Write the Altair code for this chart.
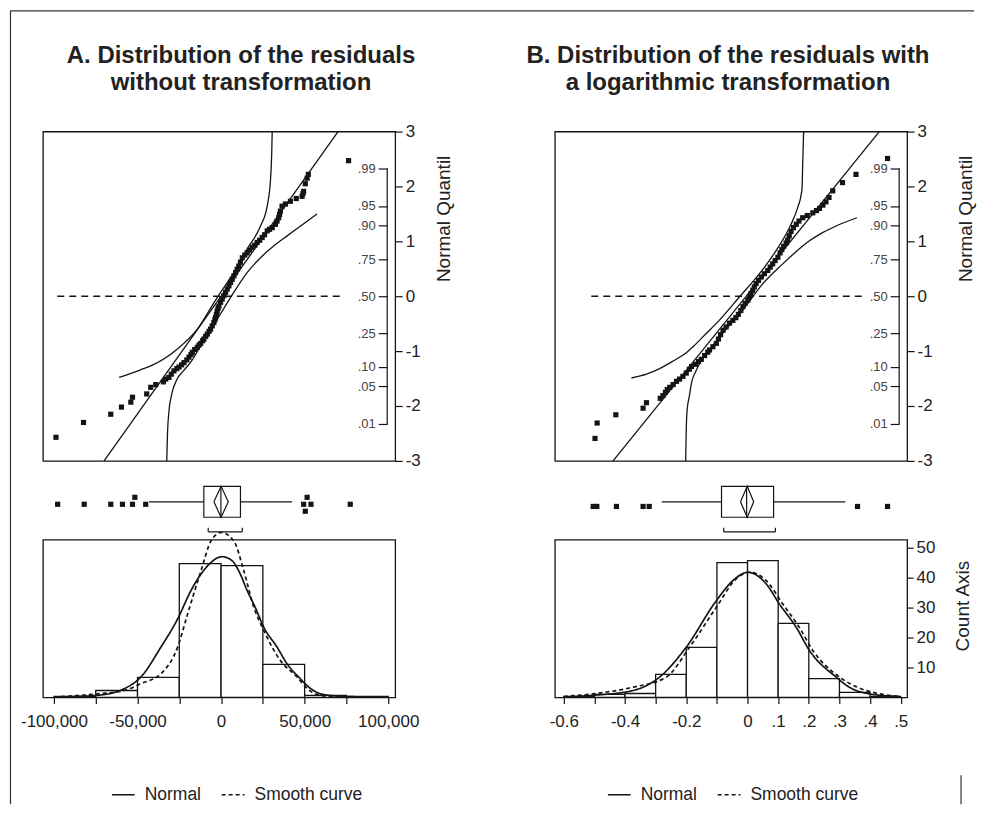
import altair as alt
import pandas as pd

FONT = "Liberation Sans"
INK = "#141414"
TXT = "#222222"

# ===================== Panel A: residuals without transformation (x in thousands) =====================
A_TITLE = ["A. Distribution of the residuals", "without transformation"]
A_QQ_RESID = [-98.8, -82.3, -66.0, -59.6, -54.0, -53.0, -44.5, -42.1, -39.1, -34.5,
              -33.1, -31.2, -29.8, -28.2, -26.5, -25.2, -23.6, -22.2, -20.5, -19.2,
              -18.0, -17.2, -15.8, -14.2, -13.2, -12.2, -11.0, -10.3, -9.2, -8.2,
              -7.2, -6.3, -5.3, -4.3, -3.7, -3.3, -2.8, -2.3, -1.8, -1.3,
              -0.3, 0.7, 1.7, 2.7, 3.7, 4.7, 5.7, 6.7, 7.7, 8.7,
              9.6, 10.6, 11.6, 12.7, 14.2, 15.6, 17.0, 18.6, 20.1, 21.6,
              23.1, 24.6, 26.0, 27.6, 29.0, 30.6, 32.5, 33.5, 34.5, 35.0,
              35.5, 36.5, 38.5, 41.5, 45.0, 48.5, 49.0, 49.4, 50.4, 51.5,
              52.2, 76.3]
A_QQ_Z = [-2.57, -2.30, -2.15, -2.02, -1.93, -1.84, -1.78, -1.66, -1.61, -1.56,
          -1.51, -1.48, -1.42, -1.36, -1.32, -1.29, -1.25, -1.21, -1.16, -1.11,
          -1.06, -1.02, -0.97, -0.93, -0.89, -0.86, -0.81, -0.78, -0.73, -0.69,
          -0.64, -0.60, -0.54, -0.48, -0.43, -0.39, -0.33, -0.27, -0.22, -0.18,
          -0.11, -0.05, 0.01, 0.07, 0.13, 0.19, 0.25, 0.31, 0.37, 0.43,
          0.49, 0.55, 0.62, 0.70, 0.75, 0.79, 0.84, 0.89, 0.93, 0.98,
          1.02, 1.07, 1.12, 1.19, 1.22, 1.25, 1.31, 1.37, 1.43, 1.49,
          1.55, 1.64, 1.68, 1.73, 1.78, 1.82, 1.87, 1.91, 2.05, 2.15,
          2.22, 2.47]
A_UP_R = [-61.0, -48.1, -42.1, -26.1, -14.2, -4.3, -0.3, 7.6, 15.6, 23.6, 27.6, 29.6, 30.3, 30.6]
A_UP_Z = [-1.48, -1.34, -1.27, -0.96, -0.60, -0.12, 0.07, 0.43, 0.86, 1.28, 1.64, 2.13, 2.60, 3.00]
A_LO_R = [-32.5, -32.1, -31.2, -29.5, -26.5, -22.5, -17.0, -12.2, -7.0, -2.3, 2.5, 7.6, 15.6, 25.6, 32.0, 39.5, 48.0, 57.4]
A_LO_Z = [-3.00, -2.54, -2.10, -1.78, -1.52, -1.36, -1.15, -0.90, -0.66, -0.42, -0.18, 0.07, 0.43, 0.76, 0.93, 1.10, 1.29, 1.50]
A_REF_R = [-70.0, 70.0]
A_REF_Z = [-3.0, 3.0]
A_ZERO_R = [-98.0, 71.0]

A_BIN_LO = [-100, -75, -50, -25, 0, 25, 50, 75]
A_BIN_HI = [-75, -50, -25, 0, 25, 50, 75, 100]
A_COUNTS = [0.3, 2.3, 6.7, 44.7, 44.0, 11.0, 0.7, 0.3]
A_NORM_R = [-100, -74, -58, -48, -36, -26, -18, -12, -6, 0.5, 6.5, 11.5, 15.6, 20.5, 25.6, 33.5, 39.5, 47.5, 51.5, 61, 75, 100]
A_NORM_C = [0.1, 0.7, 2.9, 6.8, 16.8, 26.2, 35.7, 41.2, 45.1, 47.0, 45.7, 41.2, 35.7, 30.0, 23.4, 16.8, 11.2, 6.2, 3.9, 1.0, 0.3, 0.1]
A_SMOOTH_R = [-100, -74, -58, -48, -36, -26, -20, -12, -6, 0, 7.6, 13.6, 19.6, 25.6, 35.5, 45.5, 51.5, 61.4, 75, 100]
A_SMOOTH_C = [0.1, 1.2, 2.3, 4.6, 7.9, 16.8, 27.9, 42.3, 52.3, 55.1, 52.3, 42.3, 30.1, 22.3, 12.3, 6.8, 3.0, 0.5, 0.2, 0.1]

A_BOX = dict(q1=-10.3, q3=11.6, med=-0.1, mean=0.0, mlo=-4.3, mhi=4.3,
             wlo=-43.1, whi=42.5, blo=-7.7, bhi=12.7)
A_OUT_R = [-97.8, -81.9, -66.0, -59.0, -53.0, -51.6, -45.1, 49.4, 51.5, 53.8, 50.4, 77.3]
A_OUT_STACK = [0, 0, 0, 0, 0, 1, 0, 0, 1, 0, -1, 0]
A_XTICKS = [-100, -75, -50, -25, 0, 25, 50, 75, 100]
A_XLABELS = ["-100,000", "", "-50,000", "", "0", "", "50,000", "", "100,000"]
A_XDOMAIN = [-106.6, 104.2]

# ===================== Panel B: residuals with a logarithmic transformation =====================
B_TITLE = ["B. Distribution of the residuals with", "a logarithmic transformation"]
B_QQ_RESID = [-0.498, -0.491, -0.430, -0.341, -0.330, -0.285, -0.276, -0.268, -0.262, -0.254,
              -0.243, -0.232, -0.222, -0.211, -0.200, -0.190, -0.183, -0.170, -0.160, -0.151,
              -0.140, -0.130, -0.124, -0.113, -0.102, -0.095, -0.088, -0.080, -0.070, -0.059,
              -0.048, -0.038, -0.030, -0.022, -0.015, -0.008, 0.001, 0.006, 0.011, 0.017,
              0.022, 0.028, 0.036, 0.045, 0.055, 0.066, 0.074, 0.082, 0.090, 0.099,
              0.106, 0.112, 0.118, 0.126, 0.131, 0.136, 0.142, 0.150, 0.159, 0.168,
              0.180, 0.195, 0.213, 0.225, 0.235, 0.246, 0.256, 0.266, 0.278, 0.310,
              0.354, 0.457]
B_QQ_Z = [-2.59, -2.31, -2.16, -2.04, -1.94, -1.86, -1.81, -1.75, -1.70, -1.66,
          -1.61, -1.55, -1.51, -1.46, -1.40, -1.33, -1.28, -1.24, -1.19, -1.15,
          -1.08, -1.02, -0.98, -0.92, -0.86, -0.78, -0.70, -0.62, -0.56, -0.49,
          -0.44, -0.39, -0.33, -0.26, -0.19, -0.13, -0.07, -0.01, 0.05, 0.11,
          0.17, 0.23, 0.29, 0.35, 0.41, 0.47, 0.53, 0.59, 0.65, 0.71,
          0.79, 0.85, 0.91, 0.97, 1.02, 1.10, 1.18, 1.25, 1.31, 1.37,
          1.43, 1.47, 1.52, 1.56, 1.60, 1.66, 1.72, 1.80, 1.92, 2.07,
          2.22, 2.51]
B_UP_R = [-0.379, -0.330, -0.287, -0.240, -0.200, -0.178, -0.135, -0.091, -0.026, 0.039, 0.093, 0.142, 0.164, 0.175, 0.178, 0.180, 0.183]
B_UP_Z = [-1.49, -1.42, -1.32, -1.17, -1.03, -0.92, -0.68, -0.43, -0.01, 0.41, 0.83, 1.31, 1.62, 1.85, 1.98, 2.40, 3.00]
B_LO_R = [-0.202, -0.200, -0.197, -0.190, -0.183, -0.170, -0.156, -0.125, -0.091, -0.015, 0.050, 0.115, 0.160, 0.202, 0.245, 0.289, 0.357]
B_LO_Z = [-3.00, -2.40, -2.06, -1.82, -1.58, -1.38, -1.22, -0.98, -0.74, -0.25, 0.23, 0.59, 0.82, 1.01, 1.16, 1.28, 1.43]
B_REF_R = [-0.439, 0.430]
B_REF_Z = [-3.0, 3.0]
B_ZERO_R = [-0.51, 0.375]

B_BIN_LO = [-0.6, -0.5, -0.4, -0.3, -0.2, -0.1, 0.0, 0.1, 0.2, 0.3, 0.4]
B_BIN_HI = [-0.5, -0.4, -0.3, -0.2, -0.1, 0.0, 0.1, 0.2, 0.3, 0.4, 0.5]
B_COUNTS = [0.3, 1.0, 1.3, 7.7, 16.7, 45.0, 45.7, 24.7, 6.3, 1.7, 0.3]
B_NORM_R = [-0.600, -0.504, -0.374, -0.287, -0.200, -0.102, -0.048, 0.001, 0.061, 0.104, 0.159, 0.202, 0.289, 0.332, 0.397, 0.495]
B_NORM_C = [0.1, 0.7, 2.3, 6.8, 16.8, 32.3, 39.0, 41.8, 37.9, 31.2, 23.4, 15.7, 6.8, 3.4, 1.2, 0.3]
B_SMOOTH_R = [-0.600, -0.504, -0.374, -0.265, -0.189, -0.102, -0.037, 0.007, 0.061, 0.115, 0.169, 0.213, 0.300, 0.354, 0.441, 0.495]
B_SMOOTH_C = [0.3, 1.2, 3.4, 6.8, 16.8, 30.1, 39.6, 41.8, 39.0, 31.2, 23.4, 15.7, 6.8, 3.6, 1.0, 0.3]

B_BOX = dict(q1=-0.085, q3=0.085, med=-0.003, mean=-0.001, mlo=-0.023, mhi=0.020,
             wlo=-0.280, whi=0.319, blo=-0.078, bhi=0.091)
B_OUT_R = [-0.504, -0.492, -0.428, -0.341, -0.321, 0.359, 0.457]
B_OUT_STACK = [0, 0, 0, 0, 0, 0, 0]
B_XTICKS = [-0.6, -0.5, -0.4, -0.3, -0.2, -0.1, 0.0, 0.1, 0.2, 0.3, 0.4, 0.5]
B_XLABELS = ["-0.6", "", "-0.4", "", "-0.2", "", "0", ".1", ".2", ".3", ".4", ".5"]
B_XDOMAIN = [-0.629, 0.521]

# ===================== shared axis texts =====================
Q_TICKS = [-3, -2, -1, 0, 1, 2, 3]
Q_LABELS = ["-3", "-2", "-1", "\u00a00", "\u00a01", "\u00a02", "\u00a03"]
P_Z = [-2.326, -1.645, -1.282, -0.674, 0.0, 0.674, 1.282, 1.645, 2.326]
P_LABELS = [".01", ".05", ".10", ".25", ".50", ".75", ".90", ".95", ".99"]
COUNT_TICKS = [10, 20, 30, 40, 50]
LEGEND_NAMES = ["Normal", "Smooth curve"]

# layout constants
W = 353
QQ_H = 330
BOX_H = 79
HIST_H = 158
HIST_MAX = 52.67
BOX_YDOM = [-2.452, 2.645]


def lab_expr(vals, labs):
    parts = [f"abs(datum.value - ({v})) < 0.000001 ? '{l}'" for v, l in zip(vals, labs)]
    return " : ".join(parts) + " : ''"


def qq_chart(xdom, resid, z, up_r, up_z, lo_r, lo_z, ref_r, ref_z, zero_r, title, title_dx, qtitle_x):
    xs = alt.Scale(domain=xdom, nice=False, zero=False)
    ys = alt.Scale(domain=[-3, 3], nice=False, zero=False)

    def X(f):
        return alt.X(f, type="quantitative", scale=xs, axis=None)

    def Y(f):
        return alt.Y(f, type="quantitative", scale=ys, axis=None)

    zero = alt.Chart(pd.DataFrame({"r": zero_r, "z": [0.0, 0.0]})).mark_line(
        color=INK, strokeWidth=1.3, strokeDash=[7, 5]).encode(x=X("r"), y=Y("z"))
    ref = alt.Chart(pd.DataFrame({"r": ref_r, "z": ref_z})).mark_line(
        color=INK, strokeWidth=1.3).encode(x=X("r"), y=Y("z"))
    up = alt.Chart(pd.DataFrame({"r": up_r, "z": up_z, "o": list(range(len(up_r)))})).mark_line(
        color=INK, strokeWidth=1.3, interpolate="monotone").encode(x=X("r"), y=Y("z"), order="o:Q")
    lo = alt.Chart(pd.DataFrame({"r": lo_r, "z": lo_z, "o": list(range(len(lo_r)))})).mark_line(
        color=INK, strokeWidth=1.3, interpolate="monotone").encode(x=X("r"), y=Y("z"), order="o:Q")
    pts = alt.Chart(pd.DataFrame({"r": resid, "z": z})).mark_square(
        size=27, color=INK, opacity=1).encode(
        x=X("r"),
        y=alt.Y("z", type="quantitative", scale=ys, axis=alt.Axis(
            orient="right", values=Q_TICKS, labelExpr=lab_expr(Q_TICKS, Q_LABELS),
            tickSize=7, tickWidth=1.2, tickColor=INK, domain=False, grid=False,
            labelPadding=3, labelFontSize=17, labelColor=TXT, labelAlign="left",
            labelBaseline="middle", labelOverlap=False,
            title="Normal Quantil", titleFontSize=19, titleFontWeight="normal",
            titleColor=TXT, titleAngle=270, titleX=qtitle_x, titleY=87,
            titleAlign="center", titleBaseline="middle")))
    prob = alt.Chart(pd.DataFrame({"z": P_Z})).mark_point(opacity=0).encode(
        y=alt.Y("z", type="quantitative", scale=ys, axis=alt.Axis(
            orient="left", offset=-345, values=P_Z, labelExpr=lab_expr(P_Z, P_LABELS),
            tickSize=9, tickWidth=1.2, tickColor=INK, domain=False, grid=False,
            labelPadding=3, labelFontSize=13, labelColor="#444444", labelOverlap=False,
            title=None)))
    bracket = alt.Chart(pd.DataFrame({"lo": [P_Z[0]], "hi": [P_Z[-1]]})).mark_rule(
        color=INK, strokeWidth=1.2).encode(x=alt.value(345), y=Y("lo"), y2="hi")

    return alt.layer(zero, ref, up, lo, pts, prob, bracket).resolve_axis(y="independent").properties(
        width=W, height=QQ_H,
        title=alt.TitleParams(text=title, font=FONT, fontSize=24, fontWeight="bold", color=TXT,
                              anchor="middle", frame="group", offset=4, baseline="bottom",
                              lineHeight=27, dx=title_dx))


def box_chart(xdom, st, out_r, out_stack, out_base, extra=None):
    xs = alt.Scale(domain=xdom, nice=False, zero=False)
    ys = alt.Scale(domain=BOX_YDOM, nice=False, zero=False)

    def X(f):
        return alt.X(f, type="quantitative", scale=xs, axis=None)

    def Y(f):
        return alt.Y(f, type="quantitative", scale=ys, axis=None)

    brk_y, brk_end = -1.94, -1.68
    whisk = alt.Chart(pd.DataFrame({"a": [st["wlo"], st["q3"]], "b": [st["q1"], st["whi"]], "y": [0.0, 0.0]})
                      ).mark_rule(color=INK, strokeWidth=1.2).encode(x=X("a"), x2="b", y=Y("y"))
    box = alt.Chart(pd.DataFrame({"a": [st["q1"]], "b": [st["q3"]], "t": [1.0], "u": [-1.0]})
                    ).mark_rect(fill="white", stroke=INK, strokeWidth=1.2).encode(
        x=X("a"), x2="b", y=Y("t"), y2="u")
    med = alt.Chart(pd.DataFrame({"m": [st["med"]], "t": [1.0], "u": [-1.0]})
                    ).mark_rule(color=INK, strokeWidth=1.2).encode(x=X("m"), y=Y("t"), y2="u")
    dia = alt.Chart(pd.DataFrame({"r": [st["mlo"], st["mean"], st["mhi"], st["mean"], st["mlo"]],
                                  "y": [0.0, 1.0, 0.0, -1.0, 0.0], "o": [0, 1, 2, 3, 4]})
                    ).mark_line(color=INK, strokeWidth=1.2).encode(x=X("r"), y=Y("y"), order="o:Q")
    brk = alt.Chart(pd.DataFrame({"a": [st["blo"]], "b": [st["bhi"]], "y": [brk_y]})
                    ).mark_rule(color=INK, strokeWidth=1.2).encode(x=X("a"), x2="b", y=Y("y"))
    brk_ends = alt.Chart(pd.DataFrame({"r": [st["blo"], st["bhi"]], "y": [brk_y, brk_y], "y2": [brk_end, brk_end]})
                         ).mark_rule(color=INK, strokeWidth=1.2).encode(x=X("r"), y=Y("y"), y2="y2")
    outs = alt.Chart(pd.DataFrame({"r": out_r, "y": [out_base + 0.45 * s for s in out_stack]})
                     ).mark_square(size=27, color=INK, opacity=1).encode(x=X("r"), y=Y("y"))
    layers = [whisk, box, med, dia, brk, brk_ends, outs]
    if extra:
        layers += extra
    return alt.layer(*layers).properties(width=W, height=BOX_H, view=alt.ViewBackground(strokeOpacity=0))


def hist_chart(xdom, lo, hi, counts, nr, nc, sr, sc, xticks, xlabels, show_y, legend_x):
    xs = alt.Scale(domain=xdom, nice=False, zero=False)
    ys = alt.Scale(domain=[0, HIST_MAX], nice=False, zero=False)
    xaxis = alt.Axis(values=xticks, labelExpr=lab_expr(xticks, xlabels), tickSize=6, tickWidth=1.2,
                     tickColor=INK, domain=False, grid=False, labelFontSize=17, labelColor=TXT,
                     labelPadding=10, labelFlush=False, labelOverlap=False, title=None)
    if show_y:
        yaxis = alt.Axis(orient="right", values=COUNT_TICKS, tickSize=6, tickWidth=1.2, tickColor=INK,
                         domain=False, grid=False, labelFontSize=17, labelColor=TXT, labelPadding=3,
                         title="Count Axis", titleFontSize=19, titleFontWeight="normal", titleColor=TXT,
                         titleAngle=270, titleX=55, titleY=66, titleAlign="center", titleBaseline="middle")
    else:
        yaxis = None
    bars = alt.Chart(pd.DataFrame({"lo": lo, "hi": hi, "c": counts, "base": [0.0] * len(lo)})).mark_rect(
        fill="white", stroke=INK, strokeWidth=1.3).encode(
        x=alt.X("lo", type="quantitative", scale=xs, axis=xaxis), x2="hi",
        y=alt.Y("c", type="quantitative", scale=ys, axis=yaxis), y2="base")
    cdf = pd.concat([pd.DataFrame({"r": nr, "c": nc, "series": LEGEND_NAMES[0]}),
                     pd.DataFrame({"r": sr, "c": sc, "series": LEGEND_NAMES[1]})], ignore_index=True)
    curves = alt.Chart(cdf).mark_line(color=INK, strokeWidth=1.7, interpolate="monotone").encode(
        x=alt.X("r", type="quantitative", scale=xs, axis=None),
        y=alt.Y("c", type="quantitative", scale=ys, axis=None),
        strokeDash=alt.StrokeDash("series:N", scale=alt.Scale(domain=LEGEND_NAMES, range=[[1, 0], [4, 3]]),
                                  legend=alt.Legend(orient="none", legendX=legend_x, legendY=243,
                                                    direction="horizontal", title=None, symbolType="stroke",
                                                    symbolSize=520, symbolStrokeWidth=1.6,
                                                    symbolStrokeColor=INK, labelFont=FONT, labelFontSize=17.5,
                                                    labelColor=TXT, labelOffset=9, columnPadding=16,
                                                    padding=0)))
    return alt.layer(bars, curves).resolve_axis(x="independent", y="independent").properties(
        width=W, height=HIST_H)


# figure frame lines (decoration, pixel offsets relative to the left box-plot row)
one = pd.DataFrame({"k": [0]})
frame_left = alt.Chart(one).mark_rule(color="#333333", strokeWidth=1.2).encode(
    x=alt.value(-32.5), y=alt.value(-451), y2=alt.value(344))
frame_top = alt.Chart(one).mark_rule(color="#333333", strokeWidth=1.2).encode(
    x=alt.value(-32.5), x2=alt.value(933), y=alt.value(-451))
frame_stub = alt.Chart(one).mark_rule(color="#333333", strokeWidth=1.2).encode(
    x=alt.value(920), y=alt.value(315), y2=alt.value(344))

qqA = qq_chart(A_XDOMAIN, A_QQ_RESID, A_QQ_Z, A_UP_R, A_UP_Z, A_LO_R, A_LO_Z, A_REF_R, A_REF_Z,
               A_ZERO_R, A_TITLE, 22, 48)
qqB = qq_chart(B_XDOMAIN, B_QQ_RESID, B_QQ_Z, B_UP_R, B_UP_Z, B_LO_R, B_LO_Z, B_REF_R, B_REF_Z,
               B_ZERO_R, B_TITLE, -3, 58)
boxA = box_chart(A_XDOMAIN, A_BOX, A_OUT_R, A_OUT_STACK, -0.16, extra=[frame_left, frame_top, frame_stub])
boxB = box_chart(B_XDOMAIN, B_BOX, B_OUT_R, B_OUT_STACK, -0.30)
histA = hist_chart(A_XDOMAIN, A_BIN_LO, A_BIN_HI, A_COUNTS, A_NORM_R, A_NORM_C, A_SMOOTH_R, A_SMOOTH_C,
                   A_XTICKS, A_XLABELS, False, 68)
histB = hist_chart(B_XDOMAIN, B_BIN_LO, B_BIN_HI, B_COUNTS, B_NORM_R, B_NORM_C, B_SMOOTH_R, B_SMOOTH_C,
                   B_XTICKS, B_XLABELS, True, 52)

chart = alt.concat(qqA, qqB, boxA, boxB, histA, histB, columns=2,
                   spacing={"row": 0, "column": 160}, bounds="flush", align="each").resolve_scale(
    strokeDash="independent"
).properties(
    padding=1
).configure(font=FONT).configure_view(stroke=INK, strokeWidth=1.3).configure_axis(
    grid=False, labelFont=FONT, titleFont=FONT)

chart.save("out.html", embed_options={"renderer": "svg", "actions": False})
